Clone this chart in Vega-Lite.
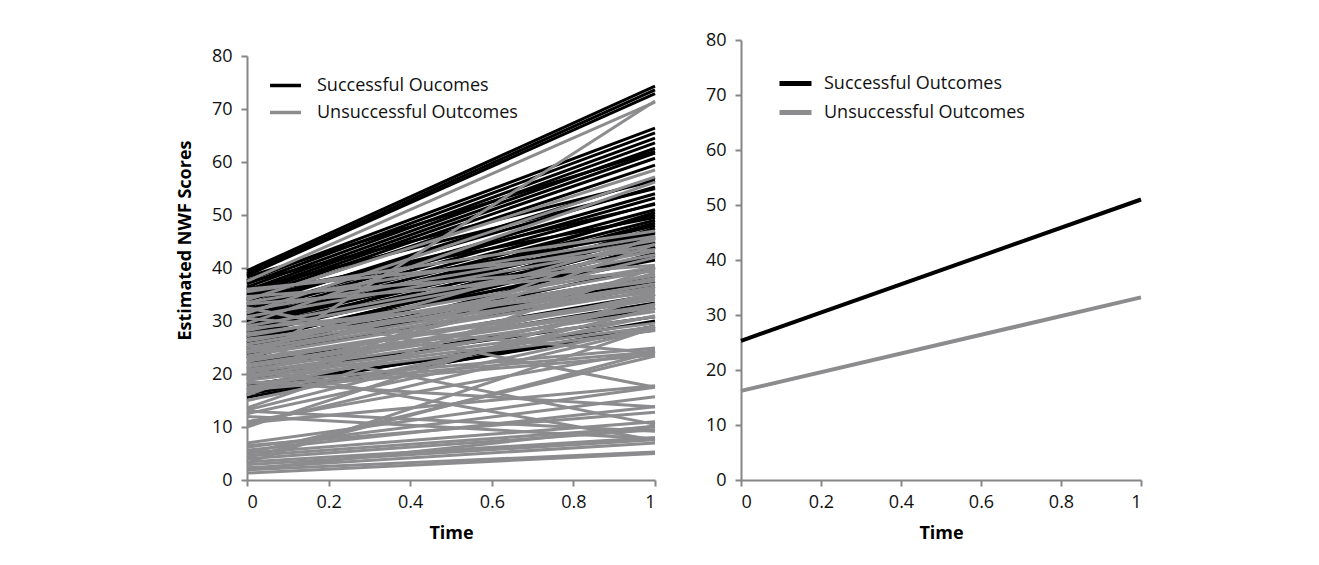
{
"$schema": "https://vega.github.io/schema/vega-lite/v6.json",
"autosize": "none",
"padding": {"left": 247, "top": 40, "right": 1072, "bottom": 525},
"background": "white",
"datasets": {
"indiv": [
{"id":"b1","outcome":"Successful Oucomes","time":0,"score":39.5},{"id":"b1","outcome":"Successful Oucomes","time":1,"score":74.3},
{"id":"b2","outcome":"Successful Oucomes","time":0,"score":39.0},{"id":"b2","outcome":"Successful Oucomes","time":1,"score":73.6},
{"id":"b3","outcome":"Successful Oucomes","time":0,"score":38.6},{"id":"b3","outcome":"Successful Oucomes","time":1,"score":72.9},
{"id":"b4","outcome":"Successful Oucomes","time":0,"score":38.3},{"id":"b4","outcome":"Successful Oucomes","time":1,"score":62.0},
{"id":"b5","outcome":"Successful Oucomes","time":0,"score":37.6},{"id":"b5","outcome":"Successful Oucomes","time":1,"score":66.4},
{"id":"b6","outcome":"Successful Oucomes","time":0,"score":37.0},{"id":"b6","outcome":"Successful Oucomes","time":1,"score":65.5},
{"id":"b7","outcome":"Successful Oucomes","time":0,"score":36.4},{"id":"b7","outcome":"Successful Oucomes","time":1,"score":64.5},
{"id":"b8","outcome":"Successful Oucomes","time":0,"score":35.8},{"id":"b8","outcome":"Successful Oucomes","time":1,"score":63.6},
{"id":"b9","outcome":"Successful Oucomes","time":0,"score":35.3},{"id":"b9","outcome":"Successful Oucomes","time":1,"score":62.6},
{"id":"b10","outcome":"Successful Oucomes","time":0,"score":34.8},{"id":"b10","outcome":"Successful Oucomes","time":1,"score":61.7},
{"id":"b11","outcome":"Successful Oucomes","time":0,"score":34.3},{"id":"b11","outcome":"Successful Oucomes","time":1,"score":60.7},
{"id":"b12","outcome":"Successful Oucomes","time":0,"score":33.8},{"id":"b12","outcome":"Successful Oucomes","time":1,"score":59.4},
{"id":"b13","outcome":"Successful Oucomes","time":0,"score":33.2},{"id":"b13","outcome":"Successful Oucomes","time":1,"score":55.3},
{"id":"b14","outcome":"Successful Oucomes","time":0,"score":32.7},{"id":"b14","outcome":"Successful Oucomes","time":1,"score":57.0},
{"id":"b15","outcome":"Successful Oucomes","time":0,"score":32.2},{"id":"b15","outcome":"Successful Oucomes","time":1,"score":54.0},
{"id":"b16","outcome":"Successful Oucomes","time":0,"score":31.6},{"id":"b16","outcome":"Successful Oucomes","time":1,"score":53.2},
{"id":"b17","outcome":"Successful Oucomes","time":0,"score":31.0},{"id":"b17","outcome":"Successful Oucomes","time":1,"score":52.2},
{"id":"b18","outcome":"Successful Oucomes","time":0,"score":30.5},{"id":"b18","outcome":"Successful Oucomes","time":1,"score":51.0},
{"id":"b19","outcome":"Successful Oucomes","time":0,"score":30.0},{"id":"b19","outcome":"Successful Oucomes","time":1,"score":50.0},
{"id":"b20","outcome":"Successful Oucomes","time":0,"score":29.5},{"id":"b20","outcome":"Successful Oucomes","time":1,"score":49.0},
{"id":"b21","outcome":"Successful Oucomes","time":0,"score":29.0},{"id":"b21","outcome":"Successful Oucomes","time":1,"score":48.0},
{"id":"b22","outcome":"Successful Oucomes","time":0,"score":28.5},{"id":"b22","outcome":"Successful Oucomes","time":1,"score":46.8},
{"id":"b23","outcome":"Successful Oucomes","time":0,"score":28.0},{"id":"b23","outcome":"Successful Oucomes","time":1,"score":45.8},
{"id":"b24","outcome":"Successful Oucomes","time":0,"score":27.5},{"id":"b24","outcome":"Successful Oucomes","time":1,"score":44.8},
{"id":"b25","outcome":"Successful Oucomes","time":0,"score":27.0},{"id":"b25","outcome":"Successful Oucomes","time":1,"score":50.5},
{"id":"b26","outcome":"Successful Oucomes","time":0,"score":26.5},{"id":"b26","outcome":"Successful Oucomes","time":1,"score":43.8},
{"id":"b27","outcome":"Successful Oucomes","time":0,"score":26.0},{"id":"b27","outcome":"Successful Oucomes","time":1,"score":45.0},
{"id":"b28","outcome":"Successful Oucomes","time":0,"score":25.5},{"id":"b28","outcome":"Successful Oucomes","time":1,"score":42.4},
{"id":"b29","outcome":"Successful Oucomes","time":0,"score":25.0},{"id":"b29","outcome":"Successful Oucomes","time":1,"score":44.0},
{"id":"b30","outcome":"Successful Oucomes","time":0,"score":24.5},{"id":"b30","outcome":"Successful Oucomes","time":1,"score":47.5},
{"id":"b31","outcome":"Successful Oucomes","time":0,"score":24.0},{"id":"b31","outcome":"Successful Oucomes","time":1,"score":40.2},
{"id":"b32","outcome":"Successful Oucomes","time":0,"score":23.5},{"id":"b32","outcome":"Successful Oucomes","time":1,"score":36.5},
{"id":"b33","outcome":"Successful Oucomes","time":0,"score":23.0},{"id":"b33","outcome":"Successful Oucomes","time":1,"score":42.8},
{"id":"b34","outcome":"Successful Oucomes","time":0,"score":22.0},{"id":"b34","outcome":"Successful Oucomes","time":1,"score":35.0},
{"id":"b35","outcome":"Successful Oucomes","time":0,"score":21.0},{"id":"b35","outcome":"Successful Oucomes","time":1,"score":33.4},
{"id":"b36","outcome":"Successful Oucomes","time":0,"score":20.0},{"id":"b36","outcome":"Successful Oucomes","time":1,"score":30.8},
{"id":"b37","outcome":"Successful Oucomes","time":0,"score":19.0},{"id":"b37","outcome":"Successful Oucomes","time":1,"score":32.5},
{"id":"b38","outcome":"Successful Oucomes","time":0,"score":18.0},{"id":"b38","outcome":"Successful Oucomes","time":1,"score":28.3},
{"id":"b39","outcome":"Successful Oucomes","time":0,"score":17.0},{"id":"b39","outcome":"Successful Oucomes","time":1,"score":30.0},
{"id":"b40","outcome":"Successful Oucomes","time":0,"score":16.2},{"id":"b40","outcome":"Successful Oucomes","time":1,"score":28.5},
{"id":"b41","outcome":"Successful Oucomes","time":0,"score":15.6},{"id":"b41","outcome":"Successful Oucomes","time":1,"score":29.0},
{"id":"b42","outcome":"Successful Oucomes","time":0,"score":36.0},{"id":"b42","outcome":"Successful Oucomes","time":1,"score":55.0},
{"id":"b43","outcome":"Successful Oucomes","time":0,"score":34.0},{"id":"b43","outcome":"Successful Oucomes","time":1,"score":52.0},
{"id":"b44","outcome":"Successful Oucomes","time":0,"score":29.8},{"id":"b44","outcome":"Successful Oucomes","time":1,"score":46.2},
{"id":"b45","outcome":"Successful Oucomes","time":0,"score":27.8},{"id":"b45","outcome":"Successful Oucomes","time":1,"score":48.5},
{"id":"b46","outcome":"Successful Oucomes","time":0,"score":37.3},{"id":"b46","outcome":"Successful Oucomes","time":1,"score":56.5},
{"id":"b47","outcome":"Successful Oucomes","time":0,"score":35.0},{"id":"b47","outcome":"Successful Oucomes","time":1,"score":49.5},
{"id":"b48","outcome":"Successful Oucomes","time":0,"score":33.0},{"id":"b48","outcome":"Successful Oucomes","time":1,"score":47.0},
{"id":"b49","outcome":"Successful Oucomes","time":0,"score":31.3},{"id":"b49","outcome":"Successful Oucomes","time":1,"score":44.0},
{"id":"b50","outcome":"Successful Oucomes","time":0,"score":30.2},{"id":"b50","outcome":"Successful Oucomes","time":1,"score":46.5},
{"id":"b51","outcome":"Successful Oucomes","time":0,"score":28.8},{"id":"b51","outcome":"Successful Oucomes","time":1,"score":42.0},
{"id":"b52","outcome":"Successful Oucomes","time":0,"score":26.8},{"id":"b52","outcome":"Successful Oucomes","time":1,"score":41.5},
{"id":"b53","outcome":"Successful Oucomes","time":0,"score":25.8},{"id":"b53","outcome":"Successful Oucomes","time":1,"score":38.5},
{"id":"b54","outcome":"Successful Oucomes","time":0,"score":24.8},{"id":"b54","outcome":"Successful Oucomes","time":1,"score":37.5},
{"id":"b55","outcome":"Successful Oucomes","time":0,"score":23.8},{"id":"b55","outcome":"Successful Oucomes","time":1,"score":45.5},
{"id":"g1","outcome":"Unsuccessful Outcomes","time":0,"score":37.5},{"id":"g1","outcome":"Unsuccessful Outcomes","time":1,"score":71.3},
{"id":"g2","outcome":"Unsuccessful Outcomes","time":0,"score":22.0},{"id":"g2","outcome":"Unsuccessful Outcomes","time":1,"score":71.5},
{"id":"g3","outcome":"Unsuccessful Outcomes","time":0,"score":34.0},{"id":"g3","outcome":"Unsuccessful Outcomes","time":1,"score":58.5},
{"id":"g4","outcome":"Unsuccessful Outcomes","time":0,"score":31.5},{"id":"g4","outcome":"Unsuccessful Outcomes","time":1,"score":57.2},
{"id":"g5","outcome":"Unsuccessful Outcomes","time":0,"score":29.5},{"id":"g5","outcome":"Unsuccessful Outcomes","time":1,"score":56.2},
{"id":"g6","outcome":"Unsuccessful Outcomes","time":0,"score":35.5},{"id":"g6","outcome":"Unsuccessful Outcomes","time":1,"score":47.0},
{"id":"g7","outcome":"Unsuccessful Outcomes","time":0,"score":33.5},{"id":"g7","outcome":"Unsuccessful Outcomes","time":1,"score":46.0},
{"id":"g8","outcome":"Unsuccessful Outcomes","time":0,"score":32.0},{"id":"g8","outcome":"Unsuccessful Outcomes","time":1,"score":45.2},
{"id":"g9","outcome":"Unsuccessful Outcomes","time":0,"score":30.8},{"id":"g9","outcome":"Unsuccessful Outcomes","time":1,"score":44.4},
{"id":"g10","outcome":"Unsuccessful Outcomes","time":0,"score":29.0},{"id":"g10","outcome":"Unsuccessful Outcomes","time":1,"score":43.2},
{"id":"g11","outcome":"Unsuccessful Outcomes","time":0,"score":28.2},{"id":"g11","outcome":"Unsuccessful Outcomes","time":1,"score":42.5},
{"id":"g12","outcome":"Unsuccessful Outcomes","time":0,"score":27.2},{"id":"g12","outcome":"Unsuccessful Outcomes","time":1,"score":40.2},
{"id":"g13","outcome":"Unsuccessful Outcomes","time":0,"score":26.2},{"id":"g13","outcome":"Unsuccessful Outcomes","time":1,"score":39.6},
{"id":"g14","outcome":"Unsuccessful Outcomes","time":0,"score":25.6},{"id":"g14","outcome":"Unsuccessful Outcomes","time":1,"score":38.6},
{"id":"g15","outcome":"Unsuccessful Outcomes","time":0,"score":25.0},{"id":"g15","outcome":"Unsuccessful Outcomes","time":1,"score":38.0},
{"id":"g16","outcome":"Unsuccessful Outcomes","time":0,"score":24.5},{"id":"g16","outcome":"Unsuccessful Outcomes","time":1,"score":37.0},
{"id":"g17","outcome":"Unsuccessful Outcomes","time":0,"score":24.0},{"id":"g17","outcome":"Unsuccessful Outcomes","time":1,"score":36.4},
{"id":"g18","outcome":"Unsuccessful Outcomes","time":0,"score":23.4},{"id":"g18","outcome":"Unsuccessful Outcomes","time":1,"score":35.8},
{"id":"g19","outcome":"Unsuccessful Outcomes","time":0,"score":22.8},{"id":"g19","outcome":"Unsuccessful Outcomes","time":1,"score":34.5},
{"id":"g20","outcome":"Unsuccessful Outcomes","time":0,"score":22.4},{"id":"g20","outcome":"Unsuccessful Outcomes","time":1,"score":34.0},
{"id":"g21","outcome":"Unsuccessful Outcomes","time":0,"score":21.8},{"id":"g21","outcome":"Unsuccessful Outcomes","time":1,"score":33.0},
{"id":"g22","outcome":"Unsuccessful Outcomes","time":0,"score":21.3},{"id":"g22","outcome":"Unsuccessful Outcomes","time":1,"score":32.6},
{"id":"g23","outcome":"Unsuccessful Outcomes","time":0,"score":20.8},{"id":"g23","outcome":"Unsuccessful Outcomes","time":1,"score":31.8},
{"id":"g24","outcome":"Unsuccessful Outcomes","time":0,"score":20.3},{"id":"g24","outcome":"Unsuccessful Outcomes","time":1,"score":30.8},
{"id":"g25","outcome":"Unsuccessful Outcomes","time":0,"score":19.8},{"id":"g25","outcome":"Unsuccessful Outcomes","time":1,"score":29.6},
{"id":"g26","outcome":"Unsuccessful Outcomes","time":0,"score":19.3},{"id":"g26","outcome":"Unsuccessful Outcomes","time":1,"score":28.9},
{"id":"g27","outcome":"Unsuccessful Outcomes","time":0,"score":18.8},{"id":"g27","outcome":"Unsuccessful Outcomes","time":1,"score":28.2},
{"id":"g28","outcome":"Unsuccessful Outcomes","time":0,"score":18.2},{"id":"g28","outcome":"Unsuccessful Outcomes","time":1,"score":24.9},
{"id":"g29","outcome":"Unsuccessful Outcomes","time":0,"score":17.6},{"id":"g29","outcome":"Unsuccessful Outcomes","time":1,"score":24.2},
{"id":"g30","outcome":"Unsuccessful Outcomes","time":0,"score":17.0},{"id":"g30","outcome":"Unsuccessful Outcomes","time":1,"score":23.6},
{"id":"g31","outcome":"Unsuccessful Outcomes","time":0,"score":16.5},{"id":"g31","outcome":"Unsuccessful Outcomes","time":1,"score":46.0},
{"id":"g32","outcome":"Unsuccessful Outcomes","time":0,"score":16.0},{"id":"g32","outcome":"Unsuccessful Outcomes","time":1,"score":44.5},
{"id":"g33","outcome":"Unsuccessful Outcomes","time":0,"score":13.6},{"id":"g33","outcome":"Unsuccessful Outcomes","time":1,"score":40.0},
{"id":"g34","outcome":"Unsuccessful Outcomes","time":0,"score":12.5},{"id":"g34","outcome":"Unsuccessful Outcomes","time":1,"score":29.0},
{"id":"g35","outcome":"Unsuccessful Outcomes","time":0,"score":11.0},{"id":"g35","outcome":"Unsuccessful Outcomes","time":1,"score":24.5},
{"id":"g36","outcome":"Unsuccessful Outcomes","time":0,"score":10.5},{"id":"g36","outcome":"Unsuccessful Outcomes","time":1,"score":28.6},
{"id":"g37","outcome":"Unsuccessful Outcomes","time":0,"score":10.0},{"id":"g37","outcome":"Unsuccessful Outcomes","time":1,"score":35.0},
{"id":"g38","outcome":"Unsuccessful Outcomes","time":0,"score":32.5},{"id":"g38","outcome":"Unsuccessful Outcomes","time":1,"score":17.5},
{"id":"g39","outcome":"Unsuccessful Outcomes","time":0,"score":25.5},{"id":"g39","outcome":"Unsuccessful Outcomes","time":1,"score":10.5},
{"id":"g40","outcome":"Unsuccessful Outcomes","time":0,"score":21.0},{"id":"g40","outcome":"Unsuccessful Outcomes","time":1,"score":7.5},
{"id":"g41","outcome":"Unsuccessful Outcomes","time":0,"score":7.0},{"id":"g41","outcome":"Unsuccessful Outcomes","time":1,"score":17.5},
{"id":"g42","outcome":"Unsuccessful Outcomes","time":0,"score":6.2},{"id":"g42","outcome":"Unsuccessful Outcomes","time":1,"score":15.7},
{"id":"g43","outcome":"Unsuccessful Outcomes","time":0,"score":5.6},{"id":"g43","outcome":"Unsuccessful Outcomes","time":1,"score":13.8},
{"id":"g44","outcome":"Unsuccessful Outcomes","time":0,"score":5.1},{"id":"g44","outcome":"Unsuccessful Outcomes","time":1,"score":11.0},
{"id":"g45","outcome":"Unsuccessful Outcomes","time":0,"score":4.6},{"id":"g45","outcome":"Unsuccessful Outcomes","time":1,"score":10.0},
{"id":"g46","outcome":"Unsuccessful Outcomes","time":0,"score":4.0},{"id":"g46","outcome":"Unsuccessful Outcomes","time":1,"score":9.5},
{"id":"g47","outcome":"Unsuccessful Outcomes","time":0,"score":3.4},{"id":"g47","outcome":"Unsuccessful Outcomes","time":1,"score":8.0},
{"id":"g48","outcome":"Unsuccessful Outcomes","time":0,"score":2.9},{"id":"g48","outcome":"Unsuccessful Outcomes","time":1,"score":7.6},
{"id":"g49","outcome":"Unsuccessful Outcomes","time":0,"score":2.3},{"id":"g49","outcome":"Unsuccessful Outcomes","time":1,"score":7.0},
{"id":"g50","outcome":"Unsuccessful Outcomes","time":0,"score":1.9},{"id":"g50","outcome":"Unsuccessful Outcomes","time":1,"score":5.3},
{"id":"g51","outcome":"Unsuccessful Outcomes","time":0,"score":1.3},{"id":"g51","outcome":"Unsuccessful Outcomes","time":1,"score":5.0},
{"id":"g52","outcome":"Unsuccessful Outcomes","time":0,"score":4.2},{"id":"g52","outcome":"Unsuccessful Outcomes","time":1,"score":24.2},
{"id":"g53","outcome":"Unsuccessful Outcomes","time":0,"score":3.2},{"id":"g53","outcome":"Unsuccessful Outcomes","time":1,"score":28.8},
{"id":"g54","outcome":"Unsuccessful Outcomes","time":0,"score":5.0},{"id":"g54","outcome":"Unsuccessful Outcomes","time":1,"score":23.4},
{"id":"g55","outcome":"Unsuccessful Outcomes","time":0,"score":2.0},{"id":"g55","outcome":"Unsuccessful Outcomes","time":1,"score":10.2},
{"id":"g56","outcome":"Unsuccessful Outcomes","time":0,"score":6.5},{"id":"g56","outcome":"Unsuccessful Outcomes","time":1,"score":12.8},
{"id":"g57","outcome":"Unsuccessful Outcomes","time":0,"score":12.0},{"id":"g57","outcome":"Unsuccessful Outcomes","time":1,"score":7.8},
{"id":"g58","outcome":"Unsuccessful Outcomes","time":0,"score":13.0},{"id":"g58","outcome":"Unsuccessful Outcomes","time":1,"score":9.2},
{"id":"g59","outcome":"Unsuccessful Outcomes","time":0,"score":36.0},{"id":"g59","outcome":"Unsuccessful Outcomes","time":1,"score":43.5},
{"id":"g60","outcome":"Unsuccessful Outcomes","time":0,"score":34.6},{"id":"g60","outcome":"Unsuccessful Outcomes","time":1,"score":40.5},
{"id":"g61","outcome":"Unsuccessful Outcomes","time":0,"score":33.2},{"id":"g61","outcome":"Unsuccessful Outcomes","time":1,"score":39.4},
{"id":"g62","outcome":"Unsuccessful Outcomes","time":0,"score":28.6},{"id":"g62","outcome":"Unsuccessful Outcomes","time":1,"score":36.0},
{"id":"g63","outcome":"Unsuccessful Outcomes","time":0,"score":27.6},{"id":"g63","outcome":"Unsuccessful Outcomes","time":1,"score":37.6},
{"id":"g64","outcome":"Unsuccessful Outcomes","time":0,"score":26.6},{"id":"g64","outcome":"Unsuccessful Outcomes","time":1,"score":35.4},
{"id":"g65","outcome":"Unsuccessful Outcomes","time":0,"score":24.2},{"id":"g65","outcome":"Unsuccessful Outcomes","time":1,"score":45.6},
{"id":"g66","outcome":"Unsuccessful Outcomes","time":0,"score":23.2},{"id":"g66","outcome":"Unsuccessful Outcomes","time":1,"score":42.0},
{"id":"g67","outcome":"Unsuccessful Outcomes","time":0,"score":20.2},{"id":"g67","outcome":"Unsuccessful Outcomes","time":1,"score":39.0},
{"id":"g68","outcome":"Unsuccessful Outcomes","time":0,"score":19.2},{"id":"g68","outcome":"Unsuccessful Outcomes","time":1,"score":35.2},
{"id":"g69","outcome":"Unsuccessful Outcomes","time":0,"score":17.2},{"id":"g69","outcome":"Unsuccessful Outcomes","time":1,"score":33.2},
{"id":"g70","outcome":"Unsuccessful Outcomes","time":0,"score":15.0},{"id":"g70","outcome":"Unsuccessful Outcomes","time":1,"score":31.0},
{"id":"g71","outcome":"Unsuccessful Outcomes","time":0,"score":13.2},{"id":"g71","outcome":"Unsuccessful Outcomes","time":1,"score":32.4},
{"id":"g72","outcome":"Unsuccessful Outcomes","time":0,"score":30.5},{"id":"g72","outcome":"Unsuccessful Outcomes","time":1,"score":24.0},
{"id":"g73","outcome":"Unsuccessful Outcomes","time":0,"score":18.5},{"id":"g73","outcome":"Unsuccessful Outcomes","time":1,"score":13.8},
{"id":"g74","outcome":"Unsuccessful Outcomes","time":0,"score":10.8},{"id":"g74","outcome":"Unsuccessful Outcomes","time":1,"score":17.8}
],
"mean": [
{"outcome":"Successful Outcomes","time":0,"score":25.3},{"outcome":"Successful Outcomes","time":1,"score":51.0},
{"outcome":"Unsuccessful Outcomes","time":0,"score":16.2},{"outcome":"Unsuccessful Outcomes","time":1,"score":33.2}
]
},
"spacing": 86,
"bounds": "flush",
"resolve": {"scale": {"color": "independent", "x": "independent", "y": "independent"}, "legend": {"color": "independent"}},
"hconcat": [
{
"width": 408, "height": 440,
"data": {"name": "indiv"},
"mark": {"type": "line", "strokeWidth": 3},
"encoding": {
"x": {"field": "time", "type": "quantitative", "scale": {"domain": [0, 1], "nice": false}, "axis": {"values": [0, 0.2, 0.4, 0.6, 0.8, 1], "format": "~g", "title": "Time"}},
"y": {"field": "score", "type": "quantitative", "scale": {"domain": [0, 80], "nice": false, "range": [440, 16]}, "axis": {"values": [0, 10, 20, 30, 40, 50, 60, 70, 80], "title": "Estimated NWF Scores", "titleY": 200, "titlePadding": 17}},
"color": {"field": "outcome", "type": "nominal", "scale": {"domain": ["Successful Oucomes", "Unsuccessful Outcomes"], "range": ["#000000", "#8c8c8e"]},
"legend": {"title": null, "orient": "none", "legendX": 21, "legendY": 28, "symbolSize": 961, "symbolStrokeWidth": 3.5, "rowPadding": -12, "labelOffset": 14}},
"detail": {"field": "id", "type": "nominal"}
}
},
{
"width": 400, "height": 440,
"data": {"name": "mean"},
"mark": {"type": "line", "strokeWidth": 4},
"encoding": {
"x": {"field": "time", "type": "quantitative", "scale": {"domain": [0, 1], "nice": false}, "axis": {"values": [0, 0.2, 0.4, 0.6, 0.8, 1], "format": "~g", "title": "Time"}},
"y": {"field": "score", "type": "quantitative", "scale": {"domain": [0, 80], "nice": false}, "axis": {"values": [0, 10, 20, 30, 40, 50, 60, 70, 80], "title": null}},
"color": {"field": "outcome", "type": "nominal", "scale": {"domain": ["Successful Outcomes", "Unsuccessful Outcomes"], "range": ["#000000", "#8c8c8e"]},
"legend": {"title": null, "orient": "none", "legendX": 36, "legendY": 25, "symbolSize": 1024, "symbolStrokeWidth": 5, "rowPadding": -3, "labelOffset": 10}}
}
}
],
"config": {
"font": "Open Sans",
"view": {"stroke": null},
"axis": {"grid": false, "domainColor": "#868686", "domainWidth": 2, "tickColor": "#868686", "tickWidth": 2, "tickSize": 6, "labelFont": "Open Sans", "labelFontSize": 18, "labelColor": "#111111", "titleFont": "Open Sans", "titleFontWeight": "bold", "titleFontSize": 18, "titleColor": "#000000"},
"axisY": {"labelPadding": 9},
"axisX": {"labelPadding": 7, "titlePadding": 13},
"legend": {"padding": 0, "labelFont": "Open Sans", "labelFontSize": 18, "labelColor": "#111111", "labelLimit": 400, "symbolType": "stroke"}
}
}
